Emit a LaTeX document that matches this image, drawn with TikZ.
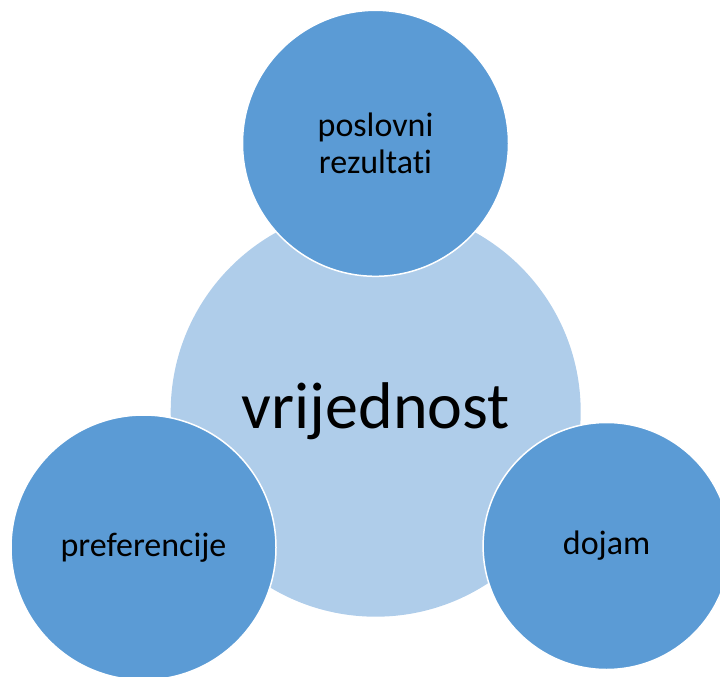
\documentclass[tikz,border=0pt]{standalone}
\usepackage{fontspec}
\setmainfont{Carlito}[Ligatures={NoCommon}]
\definecolor{lightblue}{HTML}{AFCDEA}
\definecolor{darkblue}{HTML}{5B9BD5}
\tikzset{
    hub/.style={circle, fill=lightblue, inner sep=0pt, minimum size=410pt, font=\fontsize{66}{70}\selectfont},
    satellite/.style={circle, fill=darkblue, draw=white, line width=1.5pt, inner sep=0pt, align=center, font=\fontsize{34}{37}\selectfont}
}
\begin{document}
\begin{tikzpicture}[x=1pt, y=-1pt]
            %frame
            \useasboundingbox (0, 0) rectangle (720, 677);
            \clip (0, 0) rectangle (720, 677);

            %nodes
            \node[hub] (vrijednost) at (375.7, 411.7) {vrijednost};
            \node[satellite, minimum size=266pt] (rezultati) at (375.5, 143.3) {poslovni\\rezultati};
            \node[satellite, minimum size=265pt] (preferencije) at (143.5, 547.5) {preferencije};
            \node[satellite, minimum size=247pt] (dojam) at (606.6, 546) {dojam};
        \end{tikzpicture}
\end{document}
